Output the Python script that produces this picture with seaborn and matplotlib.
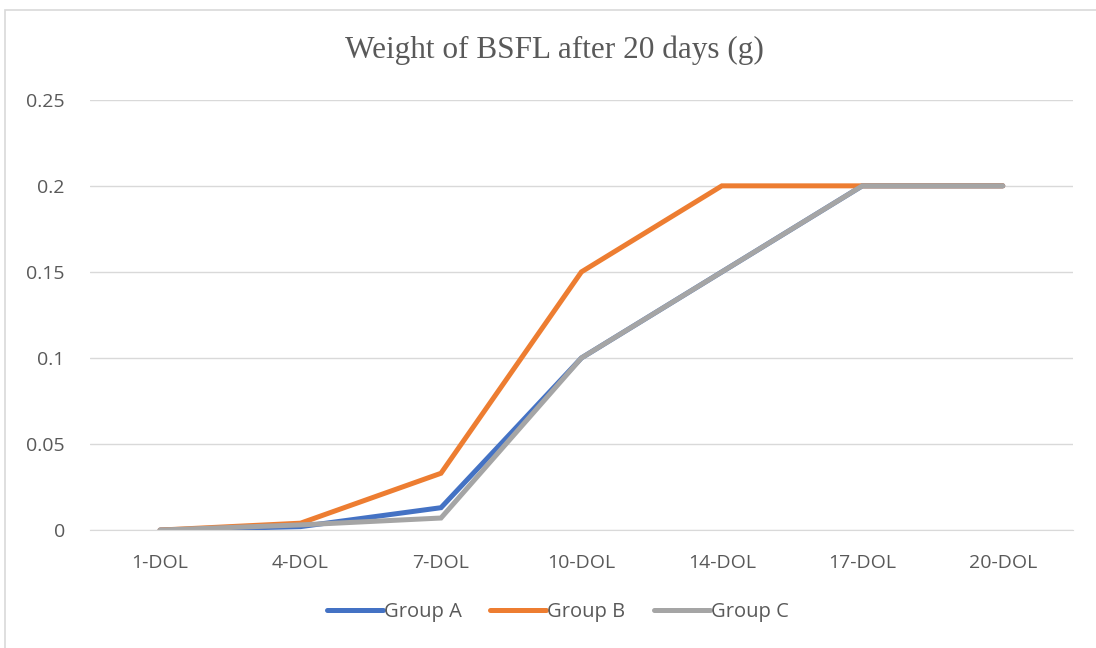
import pandas as pd
import matplotlib.pyplot as plt
import seaborn as sns
from matplotlib.patches import Rectangle

# data
days = ['1-DOL', '4-DOL', '7-DOL', '10-DOL', '14-DOL', '17-DOL', '20-DOL']
group_a = [0, 0.002, 0.013, 0.1, 0.15, 0.2, 0.2]
group_b = [0, 0.004, 0.033, 0.15, 0.2, 0.2, 0.2]
group_c = [0, 0.003, 0.007, 0.1, 0.15, 0.2, 0.2]
groups = ['Group A', 'Group B', 'Group C']
colors = ['#4472C4', '#ED7D31', '#A5A5A5']

df = pd.DataFrame({
    'Day': days * 3,
    'Weight': group_a + group_b + group_c,
    'Group': [g for g in groups for _ in days],
})

sns.set_style('white')
plt.rcParams['font.family'] = ['Open Sans', 'DejaVu Sans']

fig = plt.figure(figsize=(10.96, 6.48), dpi=100)
ax = fig.add_axes([0.082, 0.182, 0.897, 0.664])

# chart area border
fig.patches.append(Rectangle((0.005, -0.01), 1.2, 0.995, transform=fig.transFigure,
                             fill=False, edgecolor='#D9D9D9', linewidth=1.2))

sns.lineplot(data=df, x='Day', y='Weight', hue='Group', palette=colors,
             sort=False, linewidth=3.6, ax=ax, legend=True)
for line in ax.lines:
    line.set_solid_capstyle('round')
    line.set_solid_joinstyle('miter')

ax.set_xlim(-0.5, len(days) - 0.5)
ax.set_ylim(0, 0.25)
ax.set_yticks([0, 0.05, 0.1, 0.15, 0.2, 0.25])
ax.set_yticklabels(['0', '0.05', '0.1', '0.15', '0.2', '0.25'])
ax.yaxis.grid(True, color='#D9D9D9', linewidth=1)
ax.set_axisbelow(True)
for s in ['top', 'right', 'left']:
    ax.spines[s].set_visible(False)
ax.spines['bottom'].set_color('#D9D9D9')
ax.tick_params(axis='both', length=0, labelsize=14, colors='#595959')
ax.tick_params(axis='x', pad=17)
ax.tick_params(axis='y', pad=18)
ax.set_xlabel('')
ax.set_ylabel('')

# title is centred on the whole chart area, not the plot area
fig.text(0.506, 0.922, 'Weight of BSFL after 20 days (g)', family='Liberation Serif',
         fontsize=22.5, color='#595959', ha='center', va='center')

leg = ax.legend(loc='upper center', bbox_to_anchor=(0.476, -0.125), ncol=3,
                frameon=False, fontsize=14.5, handlelength=2.8, handletextpad=0.05,
                columnspacing=1.4)
for h in leg.legend_handles:
    h.set_linewidth(3.6)
for t in leg.get_texts():
    t.set_color('#595959')

fig.savefig('out.png', dpi=100)
